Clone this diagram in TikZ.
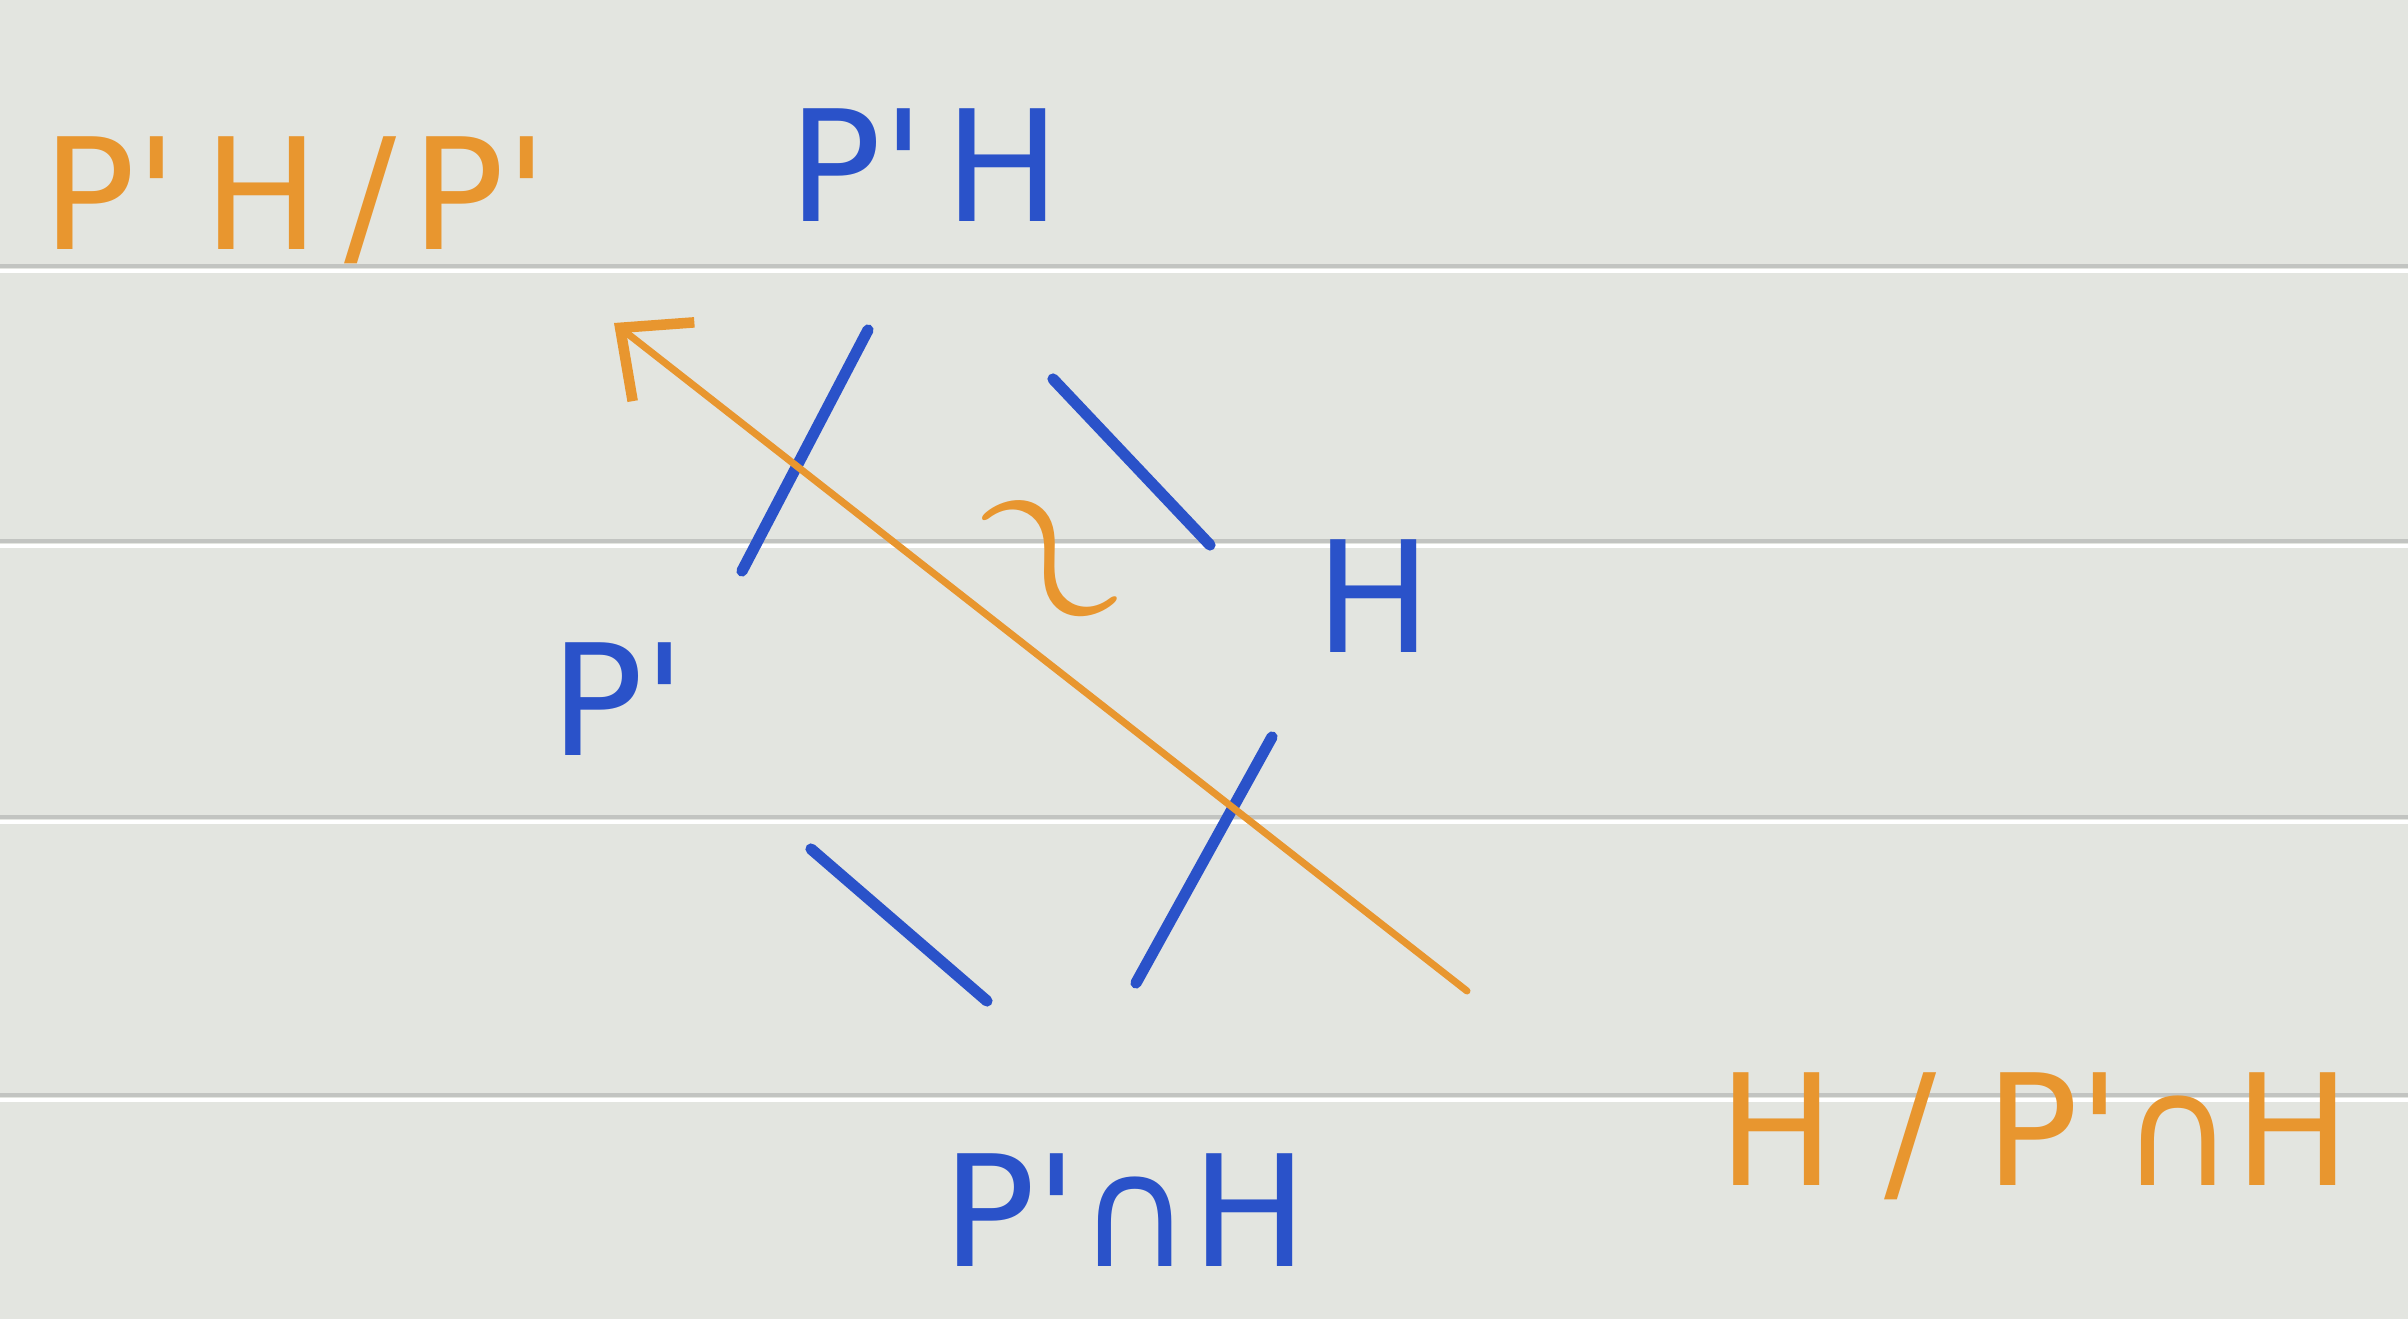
\documentclass[tikz,border=0pt]{standalone}
\usepackage{fontspec}
\setmainfont{DejaVu Sans}
\usetikzlibrary{arrows.meta}

\definecolor{paper}{HTML}{E3E5E0}
\definecolor{rulegray}{HTML}{C2C4C1}
\definecolor{pen}{HTML}{2A52C9}
\definecolor{marker}{HTML}{E8962F}

\newcommand{\pr}{\textquotesingle}

\begin{document}
\begin{tikzpicture}[
    x=0.01cm, y=-0.01cm,
    lbl/.style  = {inner sep=0pt, font=\fontsize{44}{52}\selectfont},
    blbl/.style = {lbl, text=pen},
    olbl/.style = {lbl, text=marker},
    bar/.style  = {draw=pen, line width=3.2pt, line cap=round},
    arr/.style  = {draw=marker, line width=2pt, line cap=round,
                   -{Straight Barb[length=5.5mm, width=10mm, line width=3pt]}}
  ]
  % paper
  \fill[paper] (0,0) rectangle (2408,1319);
  \useasboundingbox (0,0) rectangle (2408,1319);
  \foreach \y in {266,541,817,1095} {
    \draw[rulegray, line width=1.3pt] (0,\y) -- (2408,\y);
    \draw[white, line width=1.3pt] (0,\y+5) -- (2408,\y+5);
  }

  % subgroups
  \node[blbl] (pph) at (925,165)  {P\pr\hspace{2mm}H};
  \node[blbl] (pp)  at (618,699)  {P\pr};
  \node[blbl] (h)   at (1374,596) {H};
  \node[blbl] (pch) at (1125,1210) {P\pr∩H};

  % quotients
  \node[olbl] (qtop) at (295,200)  {P\pr\hspace{2.5mm}H\hspace{2.5mm}/\hspace{1.5mm}P\pr};
  \node[olbl] (qbot) at (2035,1136) {H / P\pr∩H};
  \node[text=marker, inner sep=0pt, font=\Huge, rotate=-50, scale=2.6,
        transform shape] (iso) at (1038,568) {$\sim$};

  \draw[bar] ([shift={(124,-128)}]pp.center) -- ([shift={(-57,165)}]pph.center);
  \draw[bar] ([shift={(128,214)}]pph.center) -- ([shift={(-164,-51)}]h.center);
  \draw[bar] ([shift={(-102,141)}]h.center)  -- ([shift={(11,-227)}]pch.center);
  \draw[bar] ([shift={(193,150)}]pp.center)  -- ([shift={(-138,-209)}]pch.center);

  \draw[arr] ([shift={(-568,-145)}]qbot.center) -- ([shift={(319,123)}]qtop.center);
\end{tikzpicture}
\end{document}
